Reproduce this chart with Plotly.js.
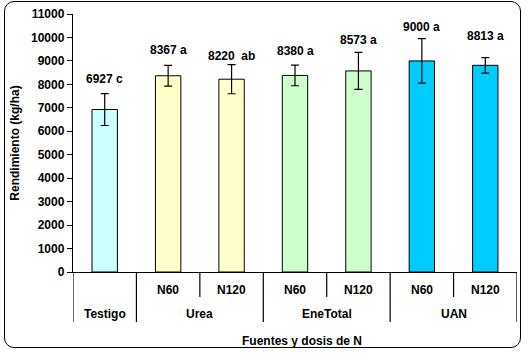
<!DOCTYPE html>
<html>
<head>
<meta charset="utf-8">
<script src="https://cdn.plot.ly/plotly-3.0.1.min.js"></script>
<style>
  html, body { margin: 0; padding: 0; background: #fff; }
  #wrap { position: relative; width: 527px; height: 354px; }
  #chart { width: 527px; height: 354px; }
  #frame { position: absolute; left: 4px; top: 1px; width: 517px; height: 347px;
           border: 1.5px solid #000; border-radius: 10px; box-sizing: border-box; pointer-events: none; }
</style>
</head>
<body>
<div id="wrap"><div id="chart"></div><div id="frame"></div></div>
<script>
// ---- data ----
const groups  = ['Testigo', 'Urea', 'Urea', 'EneTotal', 'EneTotal', 'UAN', 'UAN'];
const doses   = ['', 'N60', 'N120', 'N60', 'N120', 'N60', 'N120'];
const yields  = [6927, 8367, 8220, 8380, 8573, 9000, 8813];
const errors  = [680, 440, 620, 440, 790, 950, 330];
const letters = ['c', 'a', 'ab', 'a', 'a', 'a', 'a'];
const yTitle  = 'Rendimiento (kg/ha)';
const xTitle  = 'Fuentes y dosis de N';

// ---- styling ----
const groupColors = { 'Testigo': '#CCFFFF', 'Urea': '#FFFFCC', 'EneTotal': '#CCFFCC', 'UAN': '#00CCFF' };
const labelShift = [3, 3, -3, 2, 0, 0, 10];
const FONT = 'Arial, "Liberation Sans", sans-serif';
const plotH = 258; // pixel height of plotting area
const px = p => -p / plotH; // pixels below axis -> paper y

const idx = yields.map((_, i) => i);

const trace = {
  type: 'bar',
  x: idx,
  y: yields,
  width: 0.4,
  marker: { color: groups.map(g => groupColors[g]), line: { color: '#000', width: 1 } },
  error_y: { type: 'data', array: errors, visible: true, color: '#000', thickness: 1.2, width: 4 },
  hoverinfo: 'none'
};

const annotations = [];
const shapes = [];

// value labels
idx.forEach(i => {
  annotations.push({
    x: i, y: yields[i] + errors[i], xref: 'x', yref: 'y',
    text: yields[i] + (letters[i] === 'ab' ? '  ' : ' ') + letters[i],
    showarrow: false, yanchor: 'bottom', yshift: 3 + labelShift[i],
    font: { family: FONT, size: 12, color: '#000', weight: 'bold' }
  });
});

// dose labels (row 1)
idx.forEach(i => {
  if (doses[i]) annotations.push({
    x: i, y: px(18), xref: 'x', yref: 'paper', text: doses[i], showarrow: false,
    yanchor: 'middle', font: { family: FONT, size: 12, color: '#000', weight: 'bold' }
  });
});

// group labels (row 2)
const uniq = [...new Set(groups)];
uniq.forEach(g => {
  const ii = idx.filter(i => groups[i] === g);
  const c = ii.reduce((a, b) => a + b, 0) / ii.length;
  annotations.push({
    x: c, y: px(42), xref: 'x', yref: 'paper', text: g, showarrow: false,
    yanchor: 'middle', font: { family: FONT, size: 12, color: '#000', weight: 'bold' }
  });
});

// separator lines
for (let b = -0.5; b <= idx.length - 0.5; b += 1) {
  const left = Math.floor(b), right = Math.ceil(b);
  const full = left < 0 || right >= idx.length || groups[left] !== groups[right];
  shapes.push({
    type: 'line', xref: 'x', yref: 'paper', x0: b, x1: b, y0: 0, y1: px(full ? 50 : 25),
    line: { color: '#000', width: 1.2 }
  });
}

// axis titles
annotations.push({
  x: 0.516, y: px(69), xref: 'paper', yref: 'paper', text: xTitle, showarrow: false,
  yanchor: 'middle', font: { family: FONT, size: 12, color: '#000', weight: 'bold' }
});

const layout = {
  width: 527, height: 354,
  margin: { l: 73, r: 10, t: 14, b: 82 },
  paper_bgcolor: 'rgba(0,0,0,0)', plot_bgcolor: '#fff',
  showlegend: false,
  bargap: 0.6,
  xaxis: {
    range: [-0.5, idx.length - 0.5], showticklabels: false, ticks: '',
    showgrid: false, zeroline: false, showline: true, linecolor: '#000', linewidth: 1.2,
    fixedrange: true
  },
  yaxis: {
    range: [0, 11000], dtick: 1000, tickformat: 'd', showgrid: false, zeroline: false,
    showline: true, linecolor: '#000', linewidth: 1.2,
    ticks: 'outside', ticklen: 5, tickcolor: '#000', tickwidth: 1,
    tickfont: { family: FONT, size: 12, color: '#000', weight: 'bold' },
    title: { text: yTitle, standoff: 8, font: { family: FONT, size: 12, color: '#000', weight: 'bold' } },
    fixedrange: true
  },
  annotations: annotations,
  shapes: shapes
};

Plotly.newPlot('chart', [trace], layout, { staticPlot: true, displayModeBar: false });
</script>
</body>
</html>
